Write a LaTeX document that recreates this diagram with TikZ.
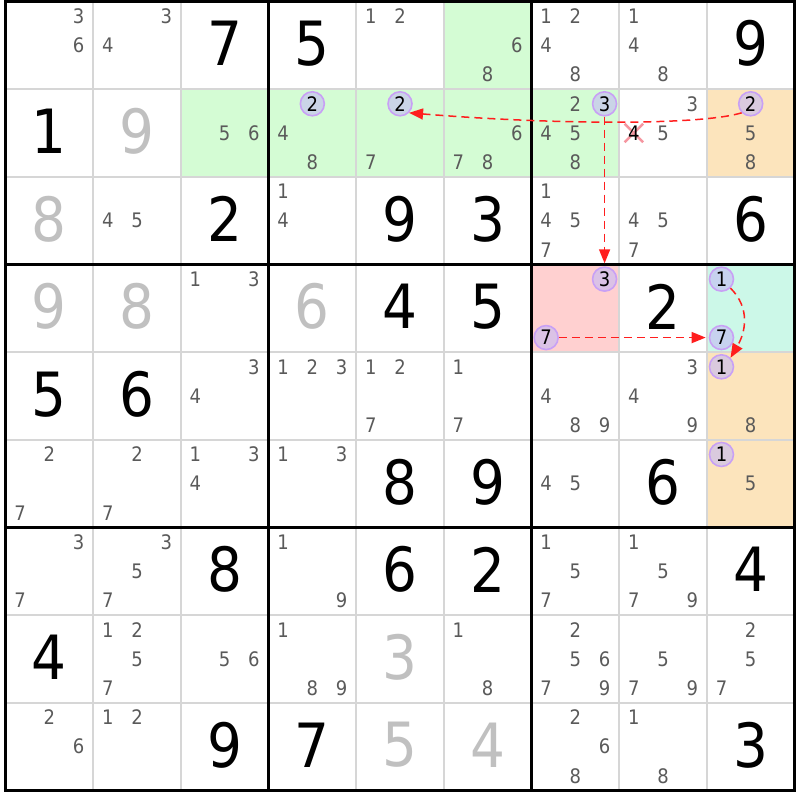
\documentclass[tikz,border=0pt]{standalone}
\usepackage{fontspec}
\setmainfont[FakeStretch=0.9]{DejaVu Sans}
\usepackage{xcolor}
\usepackage{tikz}
\usetikzlibrary{arrows.meta}
\usetikzlibrary{shapes.misc}

\definecolor{hlgreen}{RGB}{212,252,212}
\definecolor{hlorange}{RGB}{252,228,188}
\definecolor{hlpink}{RGB}{255,208,208}
\definecolor{hlmint}{RGB}{204,248,232}
\definecolor{candgray}{RGB}{90,90,90}
\definecolor{solvedgray}{RGB}{192,192,192}
\definecolor{thingray}{RGB}{214,214,214}
\definecolor{ringpurple}{RGB}{200,160,245}
\definecolor{ringfill}{RGB}{196,186,245}
\definecolor{chainred}{RGB}{255,30,30}
\definecolor{crosspink}{RGB}{245,150,160}

\begin{document}
\begin{tikzpicture}[
        x=87.67pt, y=-87.67pt,
        given/.style={black,font=\fontsize{61}{61}\selectfont,inner sep=0pt},
        solved/.style={solvedgray,font=\fontsize{61}{61}\selectfont,inner sep=0pt},
        cand/.style={candgray,font=\fontsize{20}{20}\selectfont,inner sep=0pt},
        ring/.style={circle,draw=ringpurple,line width=1.6pt,fill=ringfill,fill opacity=0.6,text opacity=1,text=black,
          minimum size=24pt,inner sep=0pt,font=\fontsize{20}{20}\selectfont},
        strike/.style={cross out,draw=crosspink,line width=2.5pt,minimum size=16pt,inner sep=0pt},
        chain/.style={chainred,line width=1.5pt,dash pattern=on 8pt off 5pt,-{Triangle[length=14pt,width=11pt]}}
        ]
        \useasboundingbox (-0.0627,-0.0171) rectangle (9.0624,9.108);
        % cell colours
        \foreach \c/\r/\col in {6/1/hlgreen, 3/2/hlgreen, 4/2/hlgreen, 5/2/hlgreen, 6/2/hlgreen, 7/2/hlgreen,
                                9/2/hlorange, 9/5/hlorange, 9/6/hlorange, 7/4/hlpink, 9/4/hlmint}
          \fill[\col] (\c-1,\r-1) rectangle (\c,\r);
        % grid
        \foreach \i in {1,2,4,5,7,8} {
          \draw[thingray,line width=2pt] (\i,0) -- (\i,9);
          \draw[thingray,line width=2pt] (0,\i) -- (9,\i);
        }
        \foreach \i in {3,6} {
          \draw[black,line width=3pt] (\i,0) -- (\i,9);
          \draw[black,line width=3pt] (0,\i) -- (9,\i);
        }
        \draw[black,line width=3pt] (0,0) rectangle (9,9);
        % given and solved digits
        \foreach \c/\r/\d in {3/1/7, 4/1/5, 9/1/9, 1/2/1, 3/3/2, 5/3/9, 6/3/3, 9/3/6, 5/4/4, 6/4/5, 8/4/2,
                              1/5/5, 2/5/6, 5/6/8, 6/6/9, 8/6/6, 3/7/8, 5/7/6, 6/7/2, 9/7/4, 1/8/4,
                              3/9/9, 4/9/7, 9/9/3}
          \node[given] (g\r\c) at (\c-0.5,\r-0.52) {\d};
        \foreach \c/\r/\d in {2/2/9, 1/3/8, 1/4/9, 2/4/8, 4/4/6, 5/8/3, 5/9/5, 6/9/4}
          \node[solved] (s\r\c) at (\c-0.5,\r-0.52) {\d};
        % candidates
        \foreach \c/\r/\ds in {1/1/{3,6}, 2/1/{3,4}, 5/1/{1,2}, 6/1/{6,8}, 7/1/{1,2,4,8}, 8/1/{1,4,8},
                               3/2/{5,6}, 4/2/{4,8}, 5/2/{7}, 6/2/{6,7,8}, 7/2/{2,4,5,8}, 8/2/{3,5}, 9/2/{5,8},
                               2/3/{4,5}, 4/3/{1,4}, 7/3/{1,4,5,7}, 8/3/{4,5,7},
                               3/4/{1,3},
                               3/5/{3,4}, 4/5/{1,2,3}, 5/5/{1,2,7}, 6/5/{1,7}, 7/5/{4,8,9}, 8/5/{3,4,9}, 9/5/{8},
                               1/6/{2,7}, 2/6/{2,7}, 3/6/{1,3,4}, 4/6/{1,3}, 7/6/{4,5}, 9/6/{5},
                               1/7/{3,7}, 2/7/{3,5,7}, 4/7/{1,9}, 7/7/{1,5,7}, 8/7/{1,5,7,9},
                               2/8/{1,2,5,7}, 3/8/{5,6}, 4/8/{1,8,9}, 6/8/{1,8}, 7/8/{2,5,6,7,9}, 8/8/{5,7,9}, 9/8/{2,5,7},
                               1/9/{2,6}, 2/9/{1,2}, 7/9/{2,6,8}, 8/9/{1,8}}
          \foreach \d in \ds {
            \pgfmathtruncatemacro{\dx}{mod(\d-1,3)}
            \pgfmathtruncatemacro{\dy}{(\d-1)/3}
            \node[cand] (k\r\c\d) at ({\c-1+(2*\dx+1)/6},{\r-1+(2*\dy+1)/6}) {\d};
          }
        % eliminated candidate
        \node[strike] (x284) at ({7+1/6},{1+3/6}) {};
        \node[cand,black] (k284) at (x284) {4};
        % chain candidates
        \foreach \c/\r/\d in {4/2/2, 5/2/2, 7/2/3, 9/2/2, 7/4/3, 7/4/7, 9/4/1, 9/4/7, 9/5/1, 9/6/1} {
          \pgfmathtruncatemacro{\dx}{mod(\d-1,3)}
          \pgfmathtruncatemacro{\dy}{(\d-1)/3}
          \node[ring] (h\r\c\d) at ({\c-1+(2*\dx+1)/6},{\r-1+(2*\dy+1)/6}) {\d};
        }
        % links
        \draw[chain] (h292.south west) .. controls +(-0.46,0.14) and +(1.71,0.14) .. (h252.south east);
        \draw[chain,shorten >=3pt] (h273.south) -- (h473.north);
        \draw[chain,shorten >=3pt] (h477.east) -- (h497.west);
        \draw[chain] (h491.south east) .. controls +(0.23,0.23) and +(0.17,-0.29) .. (h591.north east);
      \end{tikzpicture}
\end{document}
